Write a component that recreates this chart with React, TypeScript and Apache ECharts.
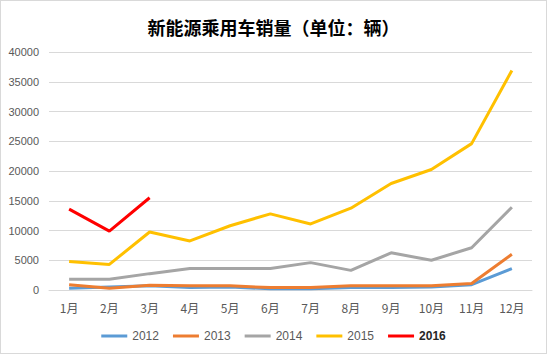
import React, { useEffect, useRef } from "react";
import * as echarts from "echarts";

const months = ["1月", "2月", "3月", "4月", "5月", "6月", "7月", "8月", "9月", "10月", "11月", "12月"];
const s2012 = [300, 500, 700, 400, 500, 200, 200, 400, 400, 500, 900, 3600];
const s2013 = [900, 300, 800, 700, 700, 400, 400, 700, 700, 700, 1100, 6000];
const s2014 = [1800, 1800, 2750, 3600, 3600, 3600, 4600, 3300, 6250, 5000, 7100, 13900];
const s2015 = [4800, 4300, 9750, 8250, 10800, 12800, 11100, 13750, 17900, 20250, 24600, 36900];
const s2016 = [13600, 9900, 15500];
const seriesNames = ["2012", "2013", "2014", "2015", "2016"];
const colors = ["#5B9BD5", "#ED7D31", "#A5A5A5", "#FFC000", "#FF0000"];

export default function App() {
  const ref = useRef<HTMLDivElement>(null);
  useEffect(() => {
    if (!ref.current) return;
    const chart = echarts.init(ref.current, null, { renderer: "svg" });
    const data = [s2012, s2013, s2014, s2015, s2016];
    chart.setOption({
      animation: false,
      backgroundColor: "#ffffff",
      color: colors,
      title: {
        text: "新能源乘用车销量（单位：辆）",
        left: "center",
        top: 12,
        textStyle: {
          fontFamily: "Noto Sans CJK SC",
          fontSize: 18,
          fontWeight: "bold",
          color: "#000000",
        },
      },
      legend: {
        bottom: 6,
        left: "center",
        itemWidth: 26,
        itemHeight: 3,
        itemGap: 14,
        icon: "rect",
        textStyle: { color: "#595959", fontSize: 12, fontFamily: "Liberation Sans" },
        data: seriesNames.map((n) =>
          n === "2016" ? { name: n, textStyle: { color: "#262626", fontWeight: "bold" } } : { name: n }
        ),
      },
      grid: { left: 48, right: 14, top: 51, bottom: 63 },
      xAxis: {
        type: "category",
        data: months,
        boundaryGap: true,
        axisLine: { lineStyle: { color: "#D9D9D9" } },
        axisTick: { show: false },
        axisLabel: { color: "#595959", fontSize: 12, margin: 11, fontFamily: "Noto Sans CJK SC" },
      },
      yAxis: {
        type: "value",
        min: 0,
        max: 40000,
        interval: 5000,
        axisLine: { show: false },
        axisTick: { show: false },
        splitLine: { lineStyle: { color: "#D9D9D9", width: 1 } },
        axisLabel: {
          color: "#595959",
          fontSize: 11,
          margin: 10,
          fontFamily: "Liberation Sans",
          formatter: (v: number) => String(v),
        },
      },
      series: seriesNames.map((n, i) => ({
        name: n,
        type: "line",
        data: data[i],
        symbol: "none",
        lineStyle: { width: 3, color: colors[i] },
        itemStyle: { color: colors[i] },
      })),
    });
    return () => chart.dispose();
  }, []);
  return (
    <div
      style={{
        position: "absolute",
        left: 0,
        top: 0,
        width: 547,
        height: 354,
        boxSizing: "border-box",
        border: "1px solid #D9D9D9",
        background: "#fff",
      }}
    >
      <div ref={ref} style={{ width: 545, height: 352 }} />
    </div>
  );
}
